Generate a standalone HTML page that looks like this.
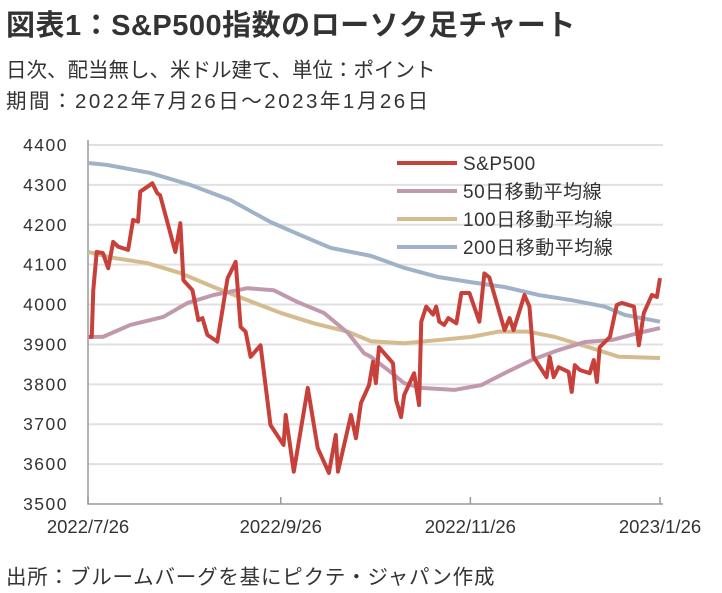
<!DOCTYPE html>
<html><head><meta charset="utf-8"><style>
body{margin:0;background:#fff;width:722px;height:593px;overflow:hidden;font-family:"Liberation Sans","Noto Sans CJK JP",sans-serif;color:#333}
.t{position:absolute;left:6px;white-space:nowrap}
</style></head><body>
<div class="t" style="top:2px;font-size:29px;font-weight:bold;color:#333;letter-spacing:0.5px">図表1：S&amp;P500指数のローソク足チャート</div>
<div class="t" style="top:53px;font-size:20.5px">日次、配当無し、米ドル建て、単位：ポイント</div>
<div class="t" style="top:84px;font-size:20.5px;letter-spacing:2.5px">期間：2022年7月26日～2023年1月26日</div>
<div class="t" style="top:560px;font-size:20.5px;letter-spacing:0.8px">出所：ブルームバーグを基にピクテ・ジャパン作成</div>
<svg id="c" width="722" height="593" style="position:absolute;left:0;top:0"></svg>
<script>
const yTicks=[3500,3600,3700,3800,3900,4000,4100,4200,4300,4400];
const xTickDays=[0,62,123,184];
const xTickLabels=["2022/7/26","2022/9/26","2022/11/26","2023/1/26"];
const spDays=[0.3,1.2,1.7,2.8,4.8,6.5,8.1,9.7,12.9,14.5,16.1,16.8,20.7,22.3,23.2,28.1,29.7,30.7,33.6,35.5,36.8,38.4,41.6,44.9,47.5,49.1,50.7,52.3,55.5,58.7,62.9,63.6,66.2,70.7,73.9,77.5,79.7,80.4,84.6,86.2,87.8,90.4,91.7,92.6,93.6,98.1,99.1,100.7,101.7,104.9,106.5,107.2,108.8,111.0,112.0,113.0,114.6,115.9,118.5,120.1,122.7,125.9,127.5,129.1,134.0,135.6,136.9,140.4,142.0,143.3,147.5,148.5,149.8,151.4,154.6,155.6,156.6,158.2,161.4,162.7,163.7,164.6,167.9,170.1,171.7,175.6,177.2,178.8,181.4,183.0,184];
const spValues=[3919,3919,4036,4132,4129,4091,4157,4145,4137,4212,4208,4283,4304,4279,4274,4132,4204,4061,4036,3961,3966,3924,3907,4066,4107,3944,3932,3869,3898,3698,3648,3723,3581,3791,3640,3578,3673,3581,3723,3665,3753,3798,3857,3803,3893,3853,3761,3718,3773,3828,3748,3957,3995,3975,3995,3957,3949,3966,3953,4029,4029,3957,4078,4068,3936,3966,3936,4024,3995,3869,3818,3869,3818,3843,3831,3781,3848,3836,3828,3861,3806,3893,3919,3999,4004,3995,3898,3979,4024,4019,4066];
const ma200Days=[0,6.2,20,32.9,45.8,58.7,68.4,78.1,91,101.7,112.7,123.3,134,144.9,155.6,166.2,172.7,184];
const ma200Values=[4355,4350,4330,4300,4262,4207,4174,4142,4122,4092,4069,4056,4044,4024,4011,3995,3974,3957];
const ma100Days=[0,8.1,19,29.7,40.4,51.3,62,72.6,83.6,91,101.7,112.7,123.3,132,141.7,150.1,161.1,170.8,184];
const ma100Values=[4132,4117,4104,4079,4044,4011,3979,3953,3932,3908,3903,3911,3919,3932,3932,3919,3893,3869,3866];
const ma50Days=[0,4.8,13.6,24.2,32,40.4,51.3,59.7,67.5,75.9,83.6,88.8,91,96.5,101.7,107.2,117.8,126.5,134,142.7,151.4,159.8,168.5,177.2,184];
const ma50Values=[3919,3919,3949,3969,4004,4024,4041,4036,4006,3979,3929,3878,3869,3836,3803,3791,3786,3798,3828,3861,3886,3906,3911,3929,3941];
const legendLabels=["S&P500","50日移動平均線","100日移動平均線","200日移動平均線"];
const colors=["#c8403a","#c09aac","#d4bc8e","#9fb2c8"];

const L=88,R=660,T=145,B=504;
const xs=d=>L+(d-0)/(184-0)*(R-L);
const ys=v=>B-(v-3500)/(4400-3500)*(B-T);
const svg=document.getElementById('c');
const NS='http://www.w3.org/2000/svg';
function mk(t,a){const e=document.createElementNS(NS,t);for(const k in a)e.setAttribute(k,a[k]);svg.appendChild(e);return e;}
yTicks.forEach(v=>{
  if(v>3500){const g=mk('line',{x1:L,x2:R+3,y1:ys(v),y2:ys(v),stroke:'#e0e0e0','stroke-width':2});
  
  }
  const t=mk('text',{x:68,y:ys(v)+6,'text-anchor':'end','font-size':17.5,fill:'#333','letter-spacing':'1.5','font-family':'"Liberation Sans",sans-serif'});
  t.textContent=String(v);
  
  
});
const ax=mk('path',{d:`M${L},${T-5}V${B}H${R+3}`,stroke:'#999','stroke-width':1.5,fill:'none'});


xTickDays.forEach((d,i)=>{
  const tk=mk('line',{x1:xs(d),x2:xs(d),y1:B,y2:B-7,stroke:'#999','stroke-width':1.5});
  
  
  const t=mk('text',{x:Math.min(xs(d),668),y:533,'text-anchor':'middle','font-size':18.5,fill:'#333','font-family':'"Liberation Sans",sans-serif'});
  t.textContent=xTickLabels[i];
  
  
});
function line(days,vals,col,name){
  const p=mk('polyline',{points:days.map((d,i)=>xs(d)+','+ys(vals[i])).join(' '),fill:'none',stroke:col,'stroke-width':4,'stroke-linejoin':'round'});
  
  
}
line(ma200Days,ma200Values,colors[3],'ma200-line');
line(ma100Days,ma100Values,colors[2],'ma100-line');
line(ma50Days,ma50Values,colors[1],'ma50-line');
line(spDays,spValues,colors[0],'sp500-line');
legendLabels.forEach((lb,i)=>{
  const y=163+i*28;
  const l=mk('line',{x1:397,x2:457,y1:y,y2:y,stroke:colors[i],'stroke-width':4});
  
  
  const t=mk('text',{x:463,y:y+7,'font-size':19,fill:'#333','letter-spacing':'0.5','font-family':'"Liberation Sans","Noto Sans CJK JP",sans-serif'});
  t.textContent=lb;
  
  
});
</script>
</body></html>
